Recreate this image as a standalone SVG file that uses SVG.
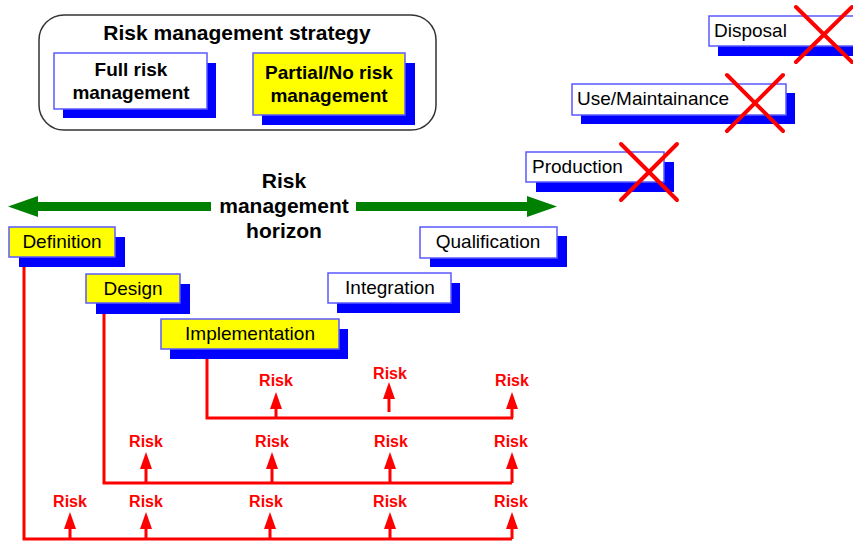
<svg xmlns="http://www.w3.org/2000/svg" width="853" height="541" viewBox="0 0 853 541">
  <style>
    .bg { fill: #ffffff; }
    .frame { fill: #ffffff; stroke: #333333; stroke-width: 1.5; }
    .shadow { fill: #0000ff; }
    .box { fill: #ffffff; stroke: #5a5aff; stroke-width: 1.5; }
    .box.active { fill: #ffff00; }
    .label { font-family: "Liberation Sans", Arial, sans-serif; font-size: 19px; fill: #000000; }
    .bold { font-weight: bold; }
    .title { font-family: "Liberation Sans", Arial, sans-serif; font-size: 21px; font-weight: bold; fill: #000000; }
    .risk { font-family: "Liberation Sans", Arial, sans-serif; font-size: 16px; font-weight: bold; fill: #ff0000; text-anchor: middle; }
    .flow { fill: none; stroke: #ff0000; stroke-width: 3; stroke-linejoin: miter; }
    .riskArrow { stroke: #ff0000; stroke-width: 3; marker-end: url(#riskHead); }
    .cross { stroke: #ff0000; stroke-width: 4; stroke-linecap: round; }
    .horizon { fill: #008000; }
  </style>
  <defs>
    <marker id="riskHead" viewBox="0 0 17 12" refX="7" refY="6" markerWidth="17" markerHeight="12" markerUnits="userSpaceOnUse" orient="auto">
      <path d="M0,0 L17,6 L0,12 z" fill="#ff0000"/>
    </marker>
  </defs>

  <rect class="bg" x="0" y="0" width="853" height="541"/>

  <!-- Strategy legend -->
  <g id="strategy">
    <rect class="frame" x="39" y="15" width="397" height="115" rx="25" ry="25"/>
    <text class="title" x="237" y="40" text-anchor="middle">Risk management strategy</text>
  </g>
  <g id="full-risk">
    <rect class="shadow" x="63" y="63" width="153" height="55"/>
    <rect class="box" x="54" y="53" width="153" height="56"/>
    <text class="label bold" x="131" y="76" text-anchor="middle">Full risk</text>
    <text class="label bold" x="131" y="99" text-anchor="middle">management</text>
  </g>
  <g id="partial-risk">
    <rect class="shadow" x="262" y="63" width="153" height="62"/>
    <rect class="box active" x="253" y="53" width="152" height="62"/>
    <text class="label bold" x="329" y="79" text-anchor="middle">Partial/No risk</text>
    <text class="label bold" x="329" y="102" text-anchor="middle">management</text>
  </g>

  <!-- Risk management horizon -->
  <g id="horizon">
    <polygon class="horizon" points="8,206.5 38,196 38,202 211,202 211,211 38,211 38,217"/>
    <polygon class="horizon" points="557,206.5 527,196 527,202 356,202 356,211 527,211 527,217"/>
    <text class="title" x="284" y="188" text-anchor="middle">Risk</text>
    <text class="title" x="284" y="213" text-anchor="middle">management</text>
    <text class="title" x="284" y="238" text-anchor="middle">horizon</text>
  </g>

  <!-- Risk flow lines and arrows -->
  <g id="connectors">
    <path class="flow" d="M24,262 V539 H512"/>
    <path class="flow" d="M104,308 V483 H512"/>
    <path class="flow" d="M207,354 V418 H513"/>

    <line class="riskArrow" x1="276" y1="418" x2="276" y2="402"/>
    <line class="riskArrow" x1="389" y1="412" x2="389" y2="392"/>
    <line class="riskArrow" x1="512" y1="418" x2="512" y2="402"/>

    <line class="riskArrow" x1="146" y1="483" x2="146" y2="462"/>
    <line class="riskArrow" x1="272" y1="483" x2="272" y2="462"/>
    <line class="riskArrow" x1="390" y1="483" x2="390" y2="462"/>
    <line class="riskArrow" x1="512" y1="483" x2="512" y2="462"/>

    <line class="riskArrow" x1="70" y1="539" x2="70" y2="522"/>
    <line class="riskArrow" x1="146" y1="539" x2="146" y2="522"/>
    <line class="riskArrow" x1="270" y1="539" x2="270" y2="522"/>
    <line class="riskArrow" x1="390" y1="539" x2="390" y2="522"/>
    <line class="riskArrow" x1="512" y1="539" x2="512" y2="522"/>

    <text class="risk" x="276" y="386">Risk</text>
    <text class="risk" x="390" y="379">Risk</text>
    <text class="risk" x="512" y="386">Risk</text>

    <text class="risk" x="146" y="447">Risk</text>
    <text class="risk" x="272" y="447">Risk</text>
    <text class="risk" x="391" y="447">Risk</text>
    <text class="risk" x="511" y="447">Risk</text>

    <text class="risk" x="70" y="507">Risk</text>
    <text class="risk" x="146" y="507">Risk</text>
    <text class="risk" x="266" y="507">Risk</text>
    <text class="risk" x="390" y="507">Risk</text>
    <text class="risk" x="511" y="507">Risk</text>
  </g>

  <!-- Lifecycle phases -->
  <g id="definition">
    <rect class="shadow" x="19" y="237" width="106" height="30"/>
    <rect class="box active" x="9" y="227" width="106" height="30"/>
    <text class="label" x="62" y="248" text-anchor="middle">Definition</text>
  </g>
  <g id="design">
    <rect class="shadow" x="96" y="284" width="94" height="30"/>
    <rect class="box active" x="86" y="274" width="94" height="29"/>
    <text class="label" x="133" y="295" text-anchor="middle">Design</text>
  </g>
  <g id="implementation">
    <rect class="shadow" x="170" y="329" width="178" height="30"/>
    <rect class="box active" x="161" y="319" width="178" height="30"/>
    <text class="label" x="250" y="340" text-anchor="middle">Implementation</text>
  </g>
  <g id="integration">
    <rect class="shadow" x="337" y="283" width="123" height="30"/>
    <rect class="box" x="328" y="273" width="123" height="30"/>
    <text class="label" x="390" y="294" text-anchor="middle">Integration</text>
  </g>
  <g id="qualification">
    <rect class="shadow" x="430" y="236" width="137" height="31"/>
    <rect class="box" x="420" y="227" width="137" height="31"/>
    <text class="label" x="488" y="248" text-anchor="middle">Qualification</text>
  </g>
  <g id="production">
    <rect class="shadow" x="536" y="162" width="138" height="30"/>
    <rect class="box" x="526" y="152" width="138" height="30"/>
    <text class="label" x="532" y="173">Production</text>
    <line class="cross" x1="621" y1="144" x2="677" y2="200"/>
    <line class="cross" x1="677" y1="144" x2="621" y2="200"/>
  </g>
  <g id="use-maintainance">
    <rect class="shadow" x="581" y="93" width="214" height="31"/>
    <rect class="box" x="572" y="84" width="214" height="31"/>
    <text class="label" x="577" y="105">Use/Maintainance</text>
    <line class="cross" x1="727" y1="75" x2="783" y2="131"/>
    <line class="cross" x1="783" y1="75" x2="727" y2="131"/>
  </g>
  <g id="disposal">
    <rect class="shadow" x="718" y="26" width="160" height="30"/>
    <rect class="box" x="709" y="16" width="160" height="30"/>
    <text class="label" x="714" y="37">Disposal</text>
    <line class="cross" x1="796" y1="7" x2="852" y2="62"/>
    <line class="cross" x1="852" y1="7" x2="796" y2="62"/>
  </g>
</svg>
